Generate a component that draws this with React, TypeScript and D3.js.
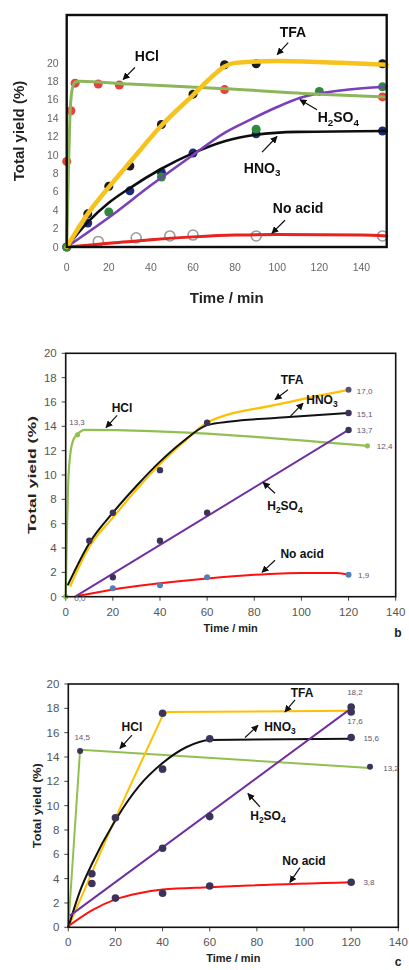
import React from 'react';
import * as d3 from 'd3';

type Pt = [number, number];

// ---------- shared ticks ----------
const timeTicks = [0, 20, 40, 60, 80, 100, 120, 140];
const yieldTicks = [0, 2, 4, 6, 8, 10, 12, 14, 16, 18, 20];

// ---------- panel a ----------
const aTfaFit: Pt[] = [[0, 0], [10, 3.6], [20, 6.5], [30, 9.2], [45, 13.2], [60, 16.5], [70, 18.7], [75, 19.6], [80, 20.0], [100, 20.2], [130, 20.0], [152, 19.8]];
const aTfaPts: Pt[] = [[10, 3.6], [20, 6.6], [30, 8.8], [45, 13.3], [60, 16.6], [75, 19.8], [90, 19.9], [150, 19.9]];
const aHclFit: Pt[] = [[0, 0], [0.8, 8], [1.5, 14], [2.5, 17], [4, 17.9], [6, 18.0], [30, 17.7], [75, 17.2], [120, 16.6], [152, 16.3]];
const aHclPts: Pt[] = [[0, 9.3], [2, 14.8], [4, 17.8], [15, 17.7], [25, 17.6], [75, 17.1], [150, 16.3]];
const aH2so4Fit: Pt[] = [[0, 0], [20, 3.2], [40, 6.7], [60, 10.0], [75, 12.4], [87, 13.8], [100, 15.2], [111, 16.2], [130, 17.0], [152, 17.4]];
const aH2so4Pts: Pt[] = [[0, 0], [20, 3.8], [45, 7.6], [90, 12.8], [120, 16.9], [150, 17.4]];
const aHno3Fit: Pt[] = [[0, 0], [10, 2.7], [20, 4.8], [30, 6.4], [45, 8.5], [60, 10.2], [75, 11.5], [90, 12.2], [110, 12.5], [152, 12.6]];
const aHno3Pts: Pt[] = [[0, 0], [10, 2.6], [30, 6.1], [45, 8.1], [60, 10.2], [90, 12.3], [150, 12.6]];
const aNoAcidFit: Pt[] = [[0, 0], [20, 0.4], [40, 0.8], [60, 1.1], [80, 1.3], [100, 1.35], [140, 1.3], [152, 1.2]];
const aNoAcidPts: Pt[] = [[15, 0.6], [33, 1.0], [49, 1.2], [60, 1.3], [90, 1.2], [150, 1.2]];

// ---------- panel b ----------
const bHclFit: Pt[] = [[0, 0], [0.5, 5], [1, 9], [2, 11.8], [3.5, 13], [5, 13.35], [8, 13.7], [128, 12.4]];
const bHclPts: Pt[] = [[0, 0], [5, 13.3], [128, 12.4]];
const bTfaFit: Pt[] = [[2, 0.9], [10, 4.1], [20, 6.5], [30, 8.8], [40, 10.9], [50, 12.7], [60, 14.3], [90, 15.8], [120, 17.0]];
const bTfaPts: Pt[] = [[120, 17.0]];
const bHno3Fit: Pt[] = [[1, 1], [10, 4.4], [20, 6.9], [30, 9.1], [40, 11.1], [50, 12.8], [60, 14.1], [70, 14.4], [90, 14.7], [120, 15.1]];
const bHno3Pts: Pt[] = [[10, 4.6], [20, 6.9], [40, 10.4], [60, 14.3], [120, 15.1]];
const bH2so4Fit: Pt[] = [[4, 0], [120, 13.7]];
const bH2so4Pts: Pt[] = [[20, 1.6], [40, 4.6], [60, 6.9], [120, 13.7]];
const bNoAcidFit: Pt[] = [[5, 0.05], [20, 0.6], [40, 1.1], [60, 1.5], [80, 1.8], [100, 1.95], [115, 1.95], [120, 1.8]];
const bNoAcidPts: Pt[] = [[20, 0.7], [40, 0.95], [60, 1.6], [120, 1.8]];

// ---------- panel c ----------
const cHclFit: Pt[] = [[0, 0], [5, 14.6], [128, 13.1]];
const cHclPts: Pt[] = [[5, 14.5], [128, 13.2]];
const cTfaFit: Pt[] = [[0, 0], [20, 9], [40, 17.4], [42, 17.7], [120, 17.8]];
const cTfaPts: Pt[] = [[40, 17.6], [120, 17.7]];
const cHno3Fit: Pt[] = [[0, 0], [5, 3], [10, 5.2], [20, 8.8], [30, 11.6], [40, 13.5], [50, 14.8], [60, 15.4], [120, 15.5]];
const cHno3Pts: Pt[] = [[10, 4.4], [20, 9], [40, 13], [60, 15.5], [120, 15.6]];
const cH2so4Fit: Pt[] = [[1, 1], [120, 18.0]];
const cH2so4Pts: Pt[] = [[10, 3.6], [40, 6.5], [60, 9.1], [120, 18.1]];
const cNoAcidFit: Pt[] = [[0, 0.1], [10, 1.4], [20, 2.3], [30, 2.8], [40, 3.1], [60, 3.3], [120, 3.7]];
const cNoAcidPts: Pt[] = [[20, 2.4], [40, 2.8], [60, 3.4], [120, 3.7]];

// ---------- annotations (text pos, arrow from, arrow to) in data units ----------
type Ann = { label: string; t: Pt; a: Pt; b: Pt };
const aAnns: Ann[] = [
  { label: 'TFA', t: [107.5, 23.3], a: [105.2, 22.2], b: [100, 20.9] },
  { label: 'HCl', t: [38.1, 20.7], a: [32.4, 19.5], b: [26.8, 18.2] },
  { label: 'H2SO4', t: [129, 14.1], a: [118.9, 14.9], b: [110.8, 16.0] },
  { label: 'HNO3', t: [92.8, 8.6], a: [92.8, 10.3], b: [99.9, 12.0] },
  { label: 'No acid', t: [109.9, 4.2], a: [103.7, 2.9], b: [97.5, 1.5] },
];
const bAnns: Ann[] = [
  { label: 'TFA', t: [96, 17.8], a: [94.3, 17.0], b: [88.8, 16.2] },
  { label: 'HNO3', t: [108.7, 16.2], a: [95.2, 14.8], b: [100.7, 15.9] },
  { label: 'HCl', t: [23.9, 15.5], a: [21.8, 14.9], b: [17.1, 13.9] },
  { label: 'H2SO4', t: [93, 7.5], a: [88.8, 8.5], b: [83.7, 9.4] },
  { label: 'No acid', t: [100.3, 3.5], a: [88.8, 3.0], b: [83.3, 2.0] },
];
const cAnns: Ann[] = [
  { label: 'TFA', t: [99.2, 19.3], a: [96.2, 18.7], b: [91.9, 17.7] },
  { label: 'HCl', t: [27, 16.5], a: [27, 15.8], b: [21.9, 14.7] },
  { label: 'HNO3', t: [89.8, 16.5], a: [75, 15.6], b: [80.5, 16.6] },
  { label: 'H2SO4', t: [84.7, 9.2], a: [81.3, 9.9], b: [76.2, 11.0] },
  { label: 'No acid', t: [100, 5.5], a: [98.3, 4.9], b: [94, 3.7] },
];

// ---------- value labels ----------
type VL = { text: string; p: Pt; anchor: string };
const bValues: VL[] = [
  { text: '13,3', p: [4.8, 14.35], anchor: 'middle' },
  { text: '17,0', p: [123.5, 16.9], anchor: 'start' },
  { text: '15,1', p: [123.5, 15.0], anchor: 'start' },
  { text: '13,7', p: [123.5, 13.65], anchor: 'start' },
  { text: '12,4', p: [132, 12.35], anchor: 'start' },
  { text: '1,9', p: [124, 1.8], anchor: 'start' },
  { text: '0,0', p: [6, -0.15], anchor: 'middle' },
];
const cValues: VL[] = [
  { text: '14,5', p: [5.9, 15.65], anchor: 'middle' },
  { text: '18,2', p: [121.6, 19.3], anchor: 'middle' },
  { text: '17,6', p: [121.6, 16.95], anchor: 'middle' },
  { text: '15,6', p: [125.2, 15.55], anchor: 'start' },
  { text: '13,2', p: [133.6, 13.1], anchor: 'start' },
  { text: '3,8', p: [125.2, 3.7], anchor: 'start' },
];

type Series = {
  fit: Pt[]; color: string; width: number; curve: any;
  pts: Pt[]; fill: string; r: number; open?: boolean; stroke?: string;
};

type PanelCfg = {
  x0: number; x1: number; y0: number; y1: number; // pixel frame
  xDom: [number, number]; yDom: [number, number];
  series: Series[]; anns: Ann[]; values: VL[];
  tickSize: number; tickColor: string; frameW: number;
  annSize: number; titleSize: number;
  xTitleY: number; yTitleX: number; yTitleLen?: number;
  markersUnder: boolean; tickMarks: boolean;
  xLabelY: number; yLabelGap: number; letter?: string; letterPos?: Pt; blur?: boolean; id: string;
};

const FONT = 'Arial, "Liberation Sans", Helvetica, sans-serif';

function AnnLabel({ label, x, y, size }: { label: string; x: number; y: number; size: number }) {
  const sub = size * 0.7;
  const common = { fontFamily: FONT, fontWeight: 700, fontSize: size, fill: '#111', textAnchor: 'middle' as const };
  if (label === 'HNO3') {
    return (
      <text x={x} y={y} {...common}>HNO<tspan fontSize={sub} dy={size * 0.25}>3</tspan></text>
    );
  }
  if (label === 'H2SO4') {
    return (
      <text x={x} y={y} {...common}>H<tspan fontSize={sub} dy={size * 0.25}>2</tspan><tspan dy={-size * 0.25}>SO</tspan><tspan fontSize={sub} dy={size * 0.25}>4</tspan></text>
    );
  }
  return <text x={x} y={y} {...common}>{label}</text>;
}

function Panel({ c }: { c: PanelCfg }) {
  const xs = d3.scaleLinear().domain(c.xDom).range([c.x0, c.x1]);
  const ys = d3.scaleLinear().domain(c.yDom).range([c.y1, c.y0]);
  const fx = d3.scaleLinear().domain([0, 140]).range([xs(0), xs(140)]);
  const lines = c.series.map((s, i) => {
    const gen = d3.line<Pt>().x(d => xs(d[0])).y(d => ys(d[1])).curve(s.curve);
    return <path key={'l' + i} d={gen(s.fit) || ''} fill="none" stroke={s.color} strokeWidth={s.width} strokeLinejoin="round" strokeLinecap="round" />;
  });
  const markers = c.series.map((s, i) => (
    <g key={'m' + i}>
      {s.pts.map((p, j) => (
        <circle key={j} cx={xs(p[0])} cy={ys(p[1])} r={s.r}
          fill={s.open ? 'none' : s.fill}
          stroke={s.open ? s.fill : (s.stroke || 'none')} strokeWidth={s.open ? 1.6 : 0.8} />
      ))}
    </g>
  ));
  const cx = (c.x0 + c.x1) / 2;
  const cy = (c.y0 + c.y1) / 2;
  return (
    <g filter={c.blur ? `url(#blur-${c.id})` : undefined}>
      {c.blur && (
        <defs>
          <filter id={`blur-${c.id}`} x="-5%" y="-5%" width="110%" height="110%">
            <feGaussianBlur stdDeviation="0.45" />
          </filter>
        </defs>
      )}
      <defs>
        <marker id={`arr-${c.id}`} viewBox="0 0 10 10" refX="9" refY="5" markerWidth="6" markerHeight="6" orient="auto">
          <path d="M0,0 L10,5 L0,10 z" fill="#111" />
        </marker>
      </defs>
      {/* tick labels */}
      {yieldTicks.map(t => (
        <g key={'y' + t}>
          {c.tickMarks && <line x1={c.x0 - 4} x2={c.x0} y1={ys(t)} y2={ys(t)} stroke="#444" strokeWidth={1} />}
          <text x={c.x0 - c.yLabelGap} y={ys(t)} dy="0.35em" textAnchor="end" fontFamily={FONT} fontSize={c.tickSize} fill={c.tickColor}>{t}</text>
        </g>
      ))}
      {timeTicks.map(t => (
        <g key={'x' + t}>
          {c.tickMarks && <line x1={fx(t)} x2={fx(t)} y1={c.y1} y2={c.y1 + 4} stroke="#444" strokeWidth={1} />}
          <text x={fx(t)} y={c.xLabelY} dy="0.35em" textAnchor="middle" fontFamily={FONT} fontSize={c.tickSize} fill={c.tickColor}>{t}</text>
        </g>
      ))}
      {c.markersUnder && markers}
      {lines}
      {!c.markersUnder && markers}
      <rect x={c.x0} y={c.y0} width={c.x1 - c.x0} height={c.y1 - c.y0} fill="none" stroke="#111" strokeWidth={c.frameW} />
      {c.anns.map((a, i) => (
        <g key={'a' + i}>
          <line x1={xs(a.a[0])} y1={ys(a.a[1])} x2={xs(a.b[0])} y2={ys(a.b[1])} stroke="#111" strokeWidth={1.2} markerEnd={`url(#arr-${c.id})`} />
          <AnnLabel label={a.label} x={xs(a.t[0])} y={ys(a.t[1]) + c.annSize * 0.35} size={c.annSize} />
        </g>
      ))}
      {c.values.map((v, i) => (
        <text key={'v' + i} x={xs(v.p[0])} y={ys(v.p[1])} dy="0.35em" textAnchor={v.anchor as any} fontFamily={FONT} fontSize={8} fill="#5a5570">{v.text}</text>
      ))}
      <text x={cx} y={c.xTitleY} dy="0.35em" textAnchor="middle" fontFamily={FONT} fontWeight={700} fontSize={c.titleSize} fill="#222">Time / min</text>
      <text transform={`translate(${c.yTitleX},${cy}) rotate(-90)`} dy="0.35em" textAnchor="middle" fontFamily={FONT} fontWeight={700} fontSize={c.titleSize} fill="#222"
        {...(c.yTitleLen ? { textLength: c.yTitleLen, lengthAdjust: 'spacingAndGlyphs' } : {})}>Total yield (%)</text>
      {c.letter && c.letterPos && (
        <text x={c.letterPos[0]} y={c.letterPos[1]} textAnchor="middle" fontFamily={FONT} fontWeight={700} fontSize={12} fill="#222">{c.letter}</text>
      )}
    </g>
  );
}

const mono = d3.curveMonotoneX;
const lin = d3.curveLinear;

const panelA: PanelCfg = {
  id: 'a', x0: 66.7, x1: 386.7, y0: 15, y1: 247, xDom: [0, 152], yDom: [0, 25.2],
  series: [
    { fit: aNoAcidFit, color: '#e8201c', width: 3, curve: mono, pts: aNoAcidPts, fill: '#9a9a9a', r: 5, open: true },
    { fit: aHno3Fit, color: '#111', width: 2.6, curve: mono, pts: aHno3Pts, fill: '#1c2a78', r: 4.5 },
    { fit: aH2so4Fit, color: '#7a3fb8', width: 2.6, curve: mono, pts: aH2so4Pts, fill: '#2f8a3c', r: 4.5 },
    { fit: aHclFit, color: '#8db55a', width: 3, curve: mono, pts: aHclPts, fill: '#e8403a', r: 4.5 },
    { fit: aTfaFit, color: '#f6c21c', width: 4.5, curve: mono, pts: aTfaPts, fill: '#1a1a1a', r: 4.5 },
  ],
  anns: aAnns, values: [], tickSize: 10.5, tickColor: '#666', frameW: 2.4, annSize: 14, titleSize: 15,
  xTitleY: 298, yTitleX: 19, markersUnder: true, tickMarks: false, xLabelY: 267, yLabelGap: 8, blur: true,
};

const panelB: PanelCfg = {
  id: 'b', x0: 65.7, x1: 395.7, y0: 353.3, y1: 596.7, xDom: [0, 140], yDom: [0, 20],
  series: [
    { fit: bHclFit, color: '#92c050', width: 2.2, curve: mono, pts: bHclPts, fill: '#92c050', r: 2.6 },
    { fit: bTfaFit, color: '#ffc000', width: 2.2, curve: mono, pts: bTfaPts, fill: '#5a5570', r: 3 },
    { fit: bHno3Fit, color: '#111', width: 2, curve: mono, pts: bHno3Pts, fill: '#3d3358', r: 3.2 },
    { fit: bH2so4Fit, color: '#7030a0', width: 2, curve: lin, pts: bH2so4Pts, fill: '#3d3358', r: 3.2 },
    { fit: bNoAcidFit, color: '#ff1010', width: 2, curve: mono, pts: bNoAcidPts, fill: '#4f81bd', r: 3 },
  ],
  anns: bAnns, values: bValues, tickSize: 11.5, tickColor: '#555', frameW: 1.6, annSize: 12, titleSize: 11,
  xTitleY: 628, yTitleX: 32, yTitleLen: 118, markersUnder: false, tickMarks: true, xLabelY: 612, yLabelGap: 9,
  letter: 'b', letterPos: [398, 637],
};

const panelC: PanelCfg = {
  id: 'c', x0: 68.3, x1: 398.3, y0: 684, y1: 927.3, xDom: [0, 140], yDom: [0, 20],
  series: [
    { fit: cHclFit, color: '#92c050', width: 2, curve: lin, pts: cHclPts, fill: '#3d3358', r: 3 },
    { fit: cTfaFit, color: '#ffc000', width: 2, curve: lin, pts: cTfaPts, fill: '#3d3358', r: 3.8 },
    { fit: cHno3Fit, color: '#111', width: 2, curve: mono, pts: cHno3Pts, fill: '#3d3358', r: 3.8 },
    { fit: cH2so4Fit, color: '#7030a0', width: 2, curve: lin, pts: cH2so4Pts, fill: '#3d3358', r: 3.8 },
    { fit: cNoAcidFit, color: '#ff1010', width: 2, curve: mono, pts: cNoAcidPts, fill: '#3d3358', r: 3.8 },
  ],
  anns: cAnns, values: cValues, tickSize: 11.5, tickColor: '#555', frameW: 1.6, annSize: 12, titleSize: 11,
  xTitleY: 958, yTitleX: 36.7, yTitleLen: 85, markersUnder: false, tickMarks: true, xLabelY: 942, yLabelGap: 9,
  letter: 'c', letterPos: [398, 966],
};

export default function App() {
  return (
    <svg width={409} height={970} style={{ position: 'absolute', left: 0, top: 0, background: '#fff' }}>
      <rect x={0} y={0} width={409} height={970} fill="#fff" />
      <Panel c={panelA} />
      <Panel c={panelB} />
      <Panel c={panelC} />
    </svg>
  );
}
